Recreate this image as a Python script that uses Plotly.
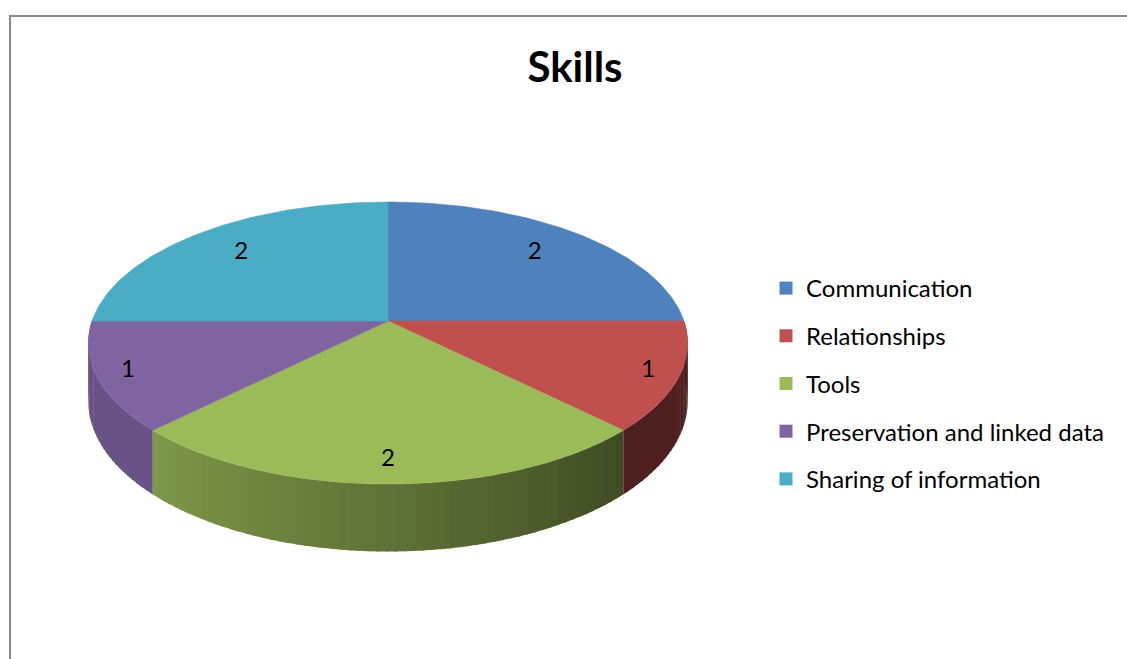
import numpy as np
import plotly.graph_objects as go

# ---- data ----
categories = ["Communication", "Relationships", "Tools",
              "Preservation and linked data", "Sharing of information"]
values = [2, 1, 2, 1, 2]
colors = ["#4F81BD", "#C0504D", "#9BBB59", "#8064A2", "#4BACC6"]
chart_title = "Skills"

# ---- geometry / style (pixel space) ----
W, H = 1127, 659
CX, CY = 388, 321
RX, RY, K, T = 296, 137.6, 0.156, 57
label_r = [0.76, 0.9, 0.87, 0.9, 0.76]
FONT = "Lato, 'Open Sans', sans-serif"


def proj(alpha_deg, r=1.0, z=0.0):
    a = np.radians(alpha_deg)
    u = r * np.sin(a)
    v = -r * np.cos(a)
    w = 1.0 / (1.0 - K * v)
    return CX + RX * u * w, CY + (RY * v + T * z) * w


def shade(hex_color, f):
    h = hex_color.lstrip("#")
    rgb = [int(h[i:i + 2], 16) for i in (0, 2, 4)]
    return "rgb({},{},{})".format(*[int(round(c * f)) for c in rgb])


total = float(sum(values))
bounds = np.concatenate([[0.0], np.cumsum(values) / total * 360.0])

fig = go.Figure()

# side walls (front half only), drawn first
for i, col in enumerate(colors):
    a0, a1 = bounds[i], bounds[i + 1]
    s0, s1 = max(a0, 90.0), min(a1, 270.0)
    if s1 <= s0:
        continue
    n = max(2, int(np.ceil((s1 - s0) / 1.5)))
    edges = np.linspace(s0, s1, n + 1)
    for j in range(n):
        b0, b1 = edges[j], min(edges[j + 1] + 0.4, s1)
        arc = np.linspace(b0, b1, 4)
        xt, yt = proj(arc, 1.0, 0.0)
        xb, yb = proj(arc[::-1], 1.0, 1.0)
        xs = np.concatenate([xt, xb, xt[:1]])
        ys = np.concatenate([yt, yb, yt[:1]])
        am = 0.5 * (edges[j] + edges[j + 1])
        f = 0.40 + 0.42 * np.clip((am - 135.0) / 90.0, 0, 1)
        c = shade(col, f)
        fig.add_trace(go.Scatter(x=xs, y=ys, mode="lines", fill="toself",
                                 fillcolor=c, line=dict(color=c, width=0),
                                 hoverinfo="skip", showlegend=False))

# top faces
for i, col in enumerate(colors):
    a0, a1 = bounds[i], bounds[i + 1]
    arc = np.linspace(a0, a1, 80)
    xa, ya = proj(arc)
    xs = np.concatenate([[CX], xa, [CX]])
    ys = np.concatenate([[CY], ya, [CY]])
    fig.add_trace(go.Scatter(x=xs, y=ys, mode="lines", fill="toself",
                             fillcolor=col, line=dict(color=col, width=0.6),
                             name=categories[i], hoverinfo="name",
                             showlegend=False))

# data labels
lx, ly = [], []
for i in range(len(values)):
    am = 0.5 * (bounds[i] + bounds[i + 1])
    x, y = proj(am, label_r[i])
    lx.append(float(x))
    ly.append(float(y))
fig.add_trace(go.Scatter(x=lx, y=ly, mode="text",
                         text=[str(v) for v in values],
                         textfont=dict(family=FONT, size=24, color="black"),
                         hoverinfo="skip", showlegend=False))

# legend entries
for i, (cat, col) in enumerate(zip(categories, colors)):
    fig.add_trace(go.Scatter(x=[None], y=[None], mode="markers",
                             marker=dict(symbol="square", size=13, color=col),
                             name=cat, legendgroup="g%d" % i, showlegend=True))

fig.update_layout(
    width=W, height=H,
    margin=dict(l=0, r=0, t=0, b=0),
    paper_bgcolor="white", plot_bgcolor="white",
    xaxis=dict(range=[0, W], visible=False, fixedrange=True),
    yaxis=dict(range=[H, 0], visible=False, fixedrange=True),
    title=dict(text=chart_title, x=575 / W, y=1 - 67 / H,
               xanchor="center", yanchor="middle",
               font=dict(family=FONT, size=42, color="black", weight=700)),
    legend=dict(x=766 / W, y=1 - 266 / H, xanchor="left", yanchor="top",
                font=dict(family=FONT, size=24, color="black"),
                traceorder="grouped", tracegroupgap=13.5, itemwidth=30,
                bgcolor="rgba(0,0,0,0)"),
    shapes=[dict(type="rect", xref="x", yref="y", x0=10, y0=16,
                 x1=1160, y1=700, line=dict(color="#8a8a8a", width=2),
                 fillcolor="rgba(0,0,0,0)", layer="below")],
    showlegend=True,
)

fig.write_html("out.html", config={"displayModeBar": False},
               post_script="document.body.style.margin='0';document.body.style.padding='0';")
